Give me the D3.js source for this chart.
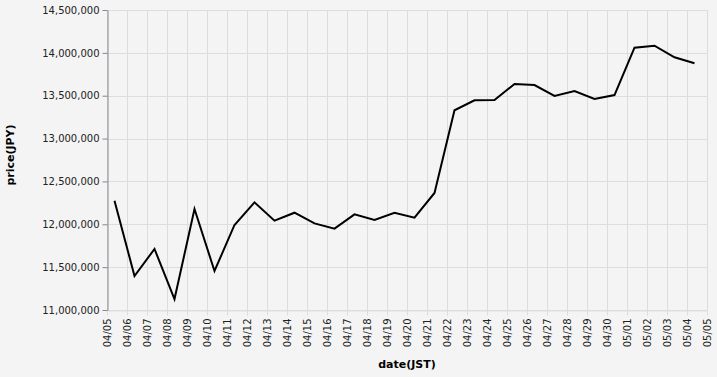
<!DOCTYPE html>
<html>
<head>
<meta charset="utf-8">
<script src="https://cdn.jsdelivr.net/npm/d3@7"></script>
<style>
  html, body { margin: 0; padding: 0; background: #f4f4f4; }
  svg { display: block; font-family: "DejaVu Sans", sans-serif; }
</style>
</head>
<body>
<div id="chart"></div>
<script>
const width = 717, height = 377;

// daily close (JST 09:00)
const dates = [
  '2025-04-05', '2025-04-06', '2025-04-07', '2025-04-08', '2025-04-09', '2025-04-10',
  '2025-04-11', '2025-04-12', '2025-04-13', '2025-04-14', '2025-04-15', '2025-04-16',
  '2025-04-17', '2025-04-18', '2025-04-19', '2025-04-20', '2025-04-21', '2025-04-22',
  '2025-04-23', '2025-04-24', '2025-04-25', '2025-04-26', '2025-04-27', '2025-04-28',
  '2025-04-29', '2025-04-30', '2025-05-01', '2025-05-02', '2025-05-03', '2025-05-04'
];
const prices = [
  12275000, 11397000, 11712000, 11128000, 12178000, 11455000,
  11992000, 12256000, 12042000, 12135000, 12011000, 11949000,
  12116000, 12050000, 12135000, 12077000, 12365000, 13330000,
  13446000, 13450000, 13637000, 13625000, 13497000, 13555000,
  13462000, 13508000, 14060000, 14083000, 13948000, 13878000
];
const yTicks = [11000000, 11500000, 12000000, 12500000, 13000000, 13500000, 14000000, 14500000];

const margin = {top: 10, right: 10, bottom: 67, left: 107};

const data = dates.map((d, i) => ({
  date: new Date(d + 'T09:00:00Z'),
  price: prices[i]
}));

const x = d3.scaleUtc()
  .domain([new Date('2025-04-05T00:00:00Z'), new Date('2025-05-05T00:00:00Z')])
  .range([margin.left, width - margin.right]);

const y = d3.scaleLinear()
  .domain([11000000, 14500000])
  .range([height - margin.bottom, margin.top]);

const svg = d3.select('#chart').append('svg')
  .attr('width', width)
  .attr('height', height);

svg.append('rect')
  .attr('width', width).attr('height', height)
  .attr('fill', '#f4f4f4');

const xTicks = d3.utcDay.range(x.domain()[0], d3.utcDay.offset(x.domain()[1], 1));
const fmt = d3.utcFormat('%m/%d');

// grid
const grid = svg.append('g').attr('stroke', '#dddddd').attr('stroke-width', 1);
grid.selectAll('line.v').data(xTicks).join('line')
  .attr('x1', d => Math.round(x(d)) + 0.5).attr('x2', d => Math.round(x(d)) + 0.5)
  .attr('y1', margin.top).attr('y2', height - margin.bottom);
grid.selectAll('line.h').data(yTicks).join('line')
  .attr('y1', d => Math.round(y(d)) + 0.5).attr('y2', d => Math.round(y(d)) + 0.5)
  .attr('x1', margin.left).attr('x2', width - margin.right);

// x axis
const xAxis = svg.append('g')
  .attr('transform', `translate(0,${height - margin.bottom + 0.5})`)
  .call(d3.axisBottom(x).tickValues(xTicks).tickFormat(fmt).tickSize(5).tickSizeOuter(0).offset(0.5));
xAxis.select('.domain').attr('stroke', '#dddddd');
xAxis.selectAll('.tick line').attr('stroke', '#dddddd');
xAxis.selectAll('.tick text')
  .attr('transform', 'rotate(-90)')
  .attr('text-anchor', 'end')
  .attr('x', -8)
  .attr('y', 0)
  .attr('dy', '0.32em')
  .attr('fill', '#222')
  .style('font-size', '10px')
  .style('font-family', '"DejaVu Sans", sans-serif');

// y axis
const yAxis = svg.append('g')
  .attr('transform', `translate(${margin.left + 0.5},0)`)
  .call(d3.axisLeft(y).tickValues(yTicks).tickFormat(d3.format(',')).tickSize(5).tickSizeOuter(0).offset(0.5));
yAxis.select('.domain').attr('stroke', '#888888');
yAxis.selectAll('.tick line').attr('stroke', '#888888');
yAxis.selectAll('.tick text')
  .attr('x', -8)
  .attr('fill', '#222')
  .style('font-size', '10px')
  .style('font-family', '"DejaVu Sans", sans-serif');

// line
svg.append('path')
  .datum(data)
  .attr('fill', 'none')
  .attr('stroke', '#000')
  .attr('stroke-width', 2)
  .attr('d', d3.line().x(d => x(d.date)).y(d => y(d.price)));

// axis titles
svg.append('text')
  .attr('transform', 'translate(14,155) rotate(-90)')
  .attr('text-anchor', 'middle')
  .attr('font-weight', 'bold')
  .attr('font-size', 11)
  .attr('fill', '#000')
  .text('price(JPY)');

svg.append('text')
  .attr('x', (margin.left + width - margin.right) / 2)
  .attr('y', 368)
  .attr('text-anchor', 'middle')
  .attr('font-weight', 'bold')
  .attr('font-size', 11)
  .attr('fill', '#000')
  .text('date(JST)');
</script>
</body>
</html>
